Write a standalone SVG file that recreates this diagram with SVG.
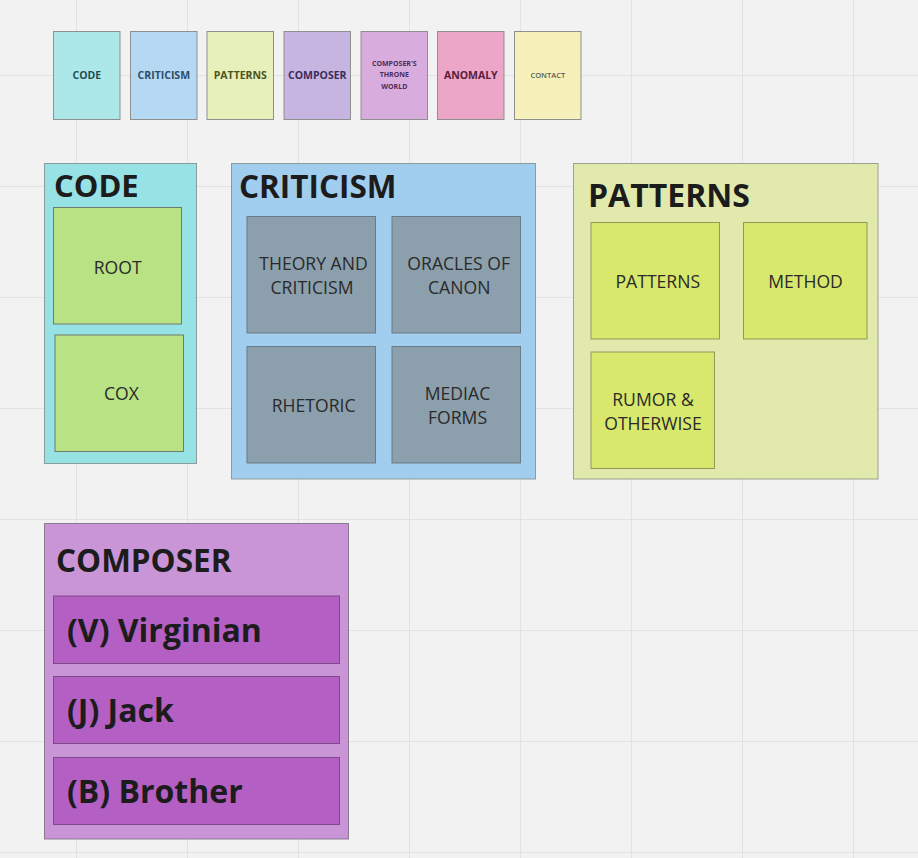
<svg xmlns="http://www.w3.org/2000/svg" width="918" height="858" viewBox="0 0 918 858">
<style>
text{font-family:"Open Sans","Noto Sans","Liberation Sans",sans-serif}
.grid line{stroke:#e2e2e2;stroke-width:1}
.leg{stroke:#8f8f8f;stroke-width:1}
.lt{font-weight:700;font-size:10.5px;text-anchor:middle}
.ls{font-weight:700;font-size:7px;text-anchor:middle}
.ct{stroke:#8c9c9c;stroke-width:1}
.title{font-weight:700;font-size:32px;fill:#1c1c1c}
.inner{stroke:#6f7a6f;stroke-width:1}
.it{font-size:17.6px;fill:#2a2a2a;text-anchor:middle}
.bar{fill:#b45fc4;stroke:#7e4a8a;stroke-width:1}
.bt{font-weight:700;font-size:32px;fill:#1c1c1c}
</style>
<rect width="918" height="858" fill="#f2f2f2"/>
<g class="grid">
<line x1="76.5" y1="0" x2="76.5" y2="858"/><line x1="187.5" y1="0" x2="187.5" y2="858"/><line x1="298.5" y1="0" x2="298.5" y2="858"/><line x1="409.5" y1="0" x2="409.5" y2="858"/><line x1="520.5" y1="0" x2="520.5" y2="858"/><line x1="631.5" y1="0" x2="631.5" y2="858"/><line x1="742.5" y1="0" x2="742.5" y2="858"/><line x1="853.5" y1="0" x2="853.5" y2="858"/>
<line x1="0" y1="75.5" x2="918" y2="75.5"/><line x1="0" y1="186.5" x2="918" y2="186.5"/><line x1="0" y1="297.5" x2="918" y2="297.5"/><line x1="0" y1="408.5" x2="918" y2="408.5"/><line x1="0" y1="519.5" x2="918" y2="519.5"/><line x1="0" y1="630.5" x2="918" y2="630.5"/><line x1="0" y1="741.5" x2="918" y2="741.5"/><line x1="0" y1="852.5" x2="918" y2="852.5"/>
</g>
<g id="legend">
<g id="leg-code"><rect class="leg" x="53.5" y="31.5" width="66.5" height="88" fill="#ade8e9"/><text class="lt" x="86.8" y="79" fill="#1f4f54">CODE</text></g>
<g id="leg-criticism"><rect class="leg" x="130.5" y="31.5" width="66.5" height="88" fill="#b5d8f3"/><text class="lt" x="163.8" y="79" fill="#2e4c6a">CRITICISM</text></g>
<g id="leg-patterns"><rect class="leg" x="207" y="31.5" width="66.5" height="88" fill="#e7f0bb"/><text class="lt" x="240.3" y="79" fill="#4c5520">PATTERNS</text></g>
<g id="leg-composer"><rect class="leg" x="284" y="31.5" width="66.5" height="88" fill="#c6b5e1"/><text class="lt" x="317.3" y="79" fill="#3c2b5a">COMPOSER</text></g>
<g id="leg-throne"><rect class="leg" x="361" y="31.5" width="66.5" height="88" fill="#d9acde"/><text class="ls" x="394.3" y="65.5" fill="#4c2c56">COMPOSER'S</text><text class="ls" x="394.3" y="77" fill="#4c2c56">THRONE</text><text class="ls" x="394.3" y="88.5" fill="#4c2c56">WORLD</text></g>
<g id="leg-anomaly"><rect class="leg" x="437.5" y="31.5" width="66.5" height="88" fill="#eca6c7"/><text class="lt" x="470.8" y="79" fill="#5c1b3a">ANOMALY</text></g>
<g id="leg-contact"><rect class="leg" x="514.5" y="31.5" width="66.5" height="88" fill="#f6f1bb"/><text class="ls" x="547.8" y="77.5" style="font-size:7.5px;font-weight:600" fill="#5a5a4e">CONTACT</text></g>
</g>
<g id="code">
<rect class="ct" x="44.5" y="163.5" width="152" height="300" fill="#97e2e4"/>
<text class="title" x="54" y="197" style="font-size:31px">CODE</text>
<g id="root"><rect class="inner" x="53.5" y="207.5" width="128" height="116.5" fill="#b8e283"/><text class="it" x="117.7" y="274">ROOT</text></g>
<g id="cox"><rect class="inner" x="55" y="335" width="128.5" height="116.5" fill="#b8e283"/><text class="it" x="121.5" y="400">COX</text></g>
</g>
<g id="criticism">
<rect class="ct" x="231.5" y="163.5" width="304" height="315.5" fill="#a1ceef"/>
<text class="title" x="239" y="198" style="font-size:31.5px">CRITICISM</text>
<g id="theory"><rect class="inner" x="247" y="216.5" width="128.5" height="116.5" fill="#8c9fac" style="stroke:#6b7b85"/><text class="it" x="313.5" y="270">THEORY AND</text><text class="it" x="312" y="294">CRITICISM</text></g>
<g id="oracles"><rect class="inner" x="392" y="216.5" width="128.5" height="116.5" fill="#8c9fac" style="stroke:#6b7b85"/><text class="it" x="458.7" y="270">ORACLES OF</text><text class="it" x="459.2" y="294">CANON</text></g>
<g id="rhetoric"><rect class="inner" x="247" y="346.5" width="128.5" height="116.5" fill="#8c9fac" style="stroke:#6b7b85"/><text class="it" x="313.7" y="411.5">RHETORIC</text></g>
<g id="mediac"><rect class="inner" x="392" y="346.5" width="128.5" height="116.5" fill="#8c9fac" style="stroke:#6b7b85"/><text class="it" x="457.5" y="400">MEDIAC</text><text class="it" x="457.5" y="423.5">FORMS</text></g>
</g>
<g id="patterns">
<rect class="ct" x="573.5" y="163.5" width="304.5" height="315.5" fill="#e1eaac" style="stroke:#9aa08a"/>
<text class="title" x="588" y="207">PATTERNS</text>
<g id="patterns-box"><rect class="inner" x="591" y="222.5" width="128.5" height="116.5" fill="#d7e86c" style="stroke:#8e9a5a"/><text class="it" x="657.8" y="288">PATTERNS</text></g>
<g id="method"><rect class="inner" x="743.5" y="222.5" width="123.5" height="116.5" fill="#d7e86c" style="stroke:#8e9a5a"/><text class="it" x="805.5" y="288">METHOD</text></g>
<g id="rumor"><rect class="inner" x="591" y="352" width="123.5" height="116.5" fill="#d7e86c" style="stroke:#8e9a5a"/><text class="it" x="653" y="406">RUMOR &amp;</text><text class="it" x="653" y="429.5">OTHERWISE</text></g>
</g>
<g id="composer">
<rect class="ct" x="44.5" y="523.5" width="304" height="315.5" fill="#c995d6" style="stroke:#8a7a8e"/>
<text class="title" x="56" y="571.5" style="font-size:31.5px">COMPOSER</text>
<g id="virginian"><rect class="bar" x="53.5" y="596" width="286" height="67.5"/><text class="bt" x="67" y="641.5">(V) Virginian</text></g>
<g id="jack"><rect class="bar" x="53.5" y="676.5" width="286" height="67"/><text class="bt" x="67" y="721.5">(J) Jack</text></g>
<g id="brother"><rect class="bar" x="53.5" y="757.5" width="286" height="67"/><text class="bt" x="67" y="802.5">(B) Brother</text></g>
</g>
<g id="connectors"/>
</svg>
